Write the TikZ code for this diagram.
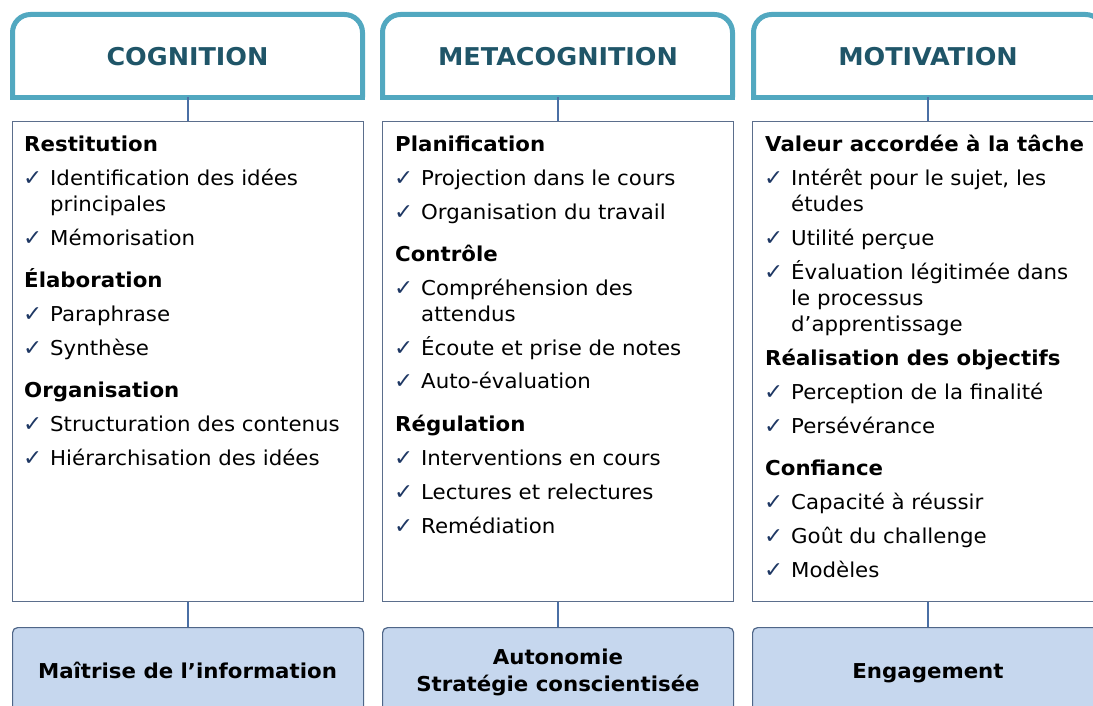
\documentclass[tikz,border=0pt]{standalone}
\usepackage{fontspec}
\setmainfont{DejaVu Sans}[FakeStretch=1.04]
\definecolor{hdrline}{HTML}{52A8C0}
\definecolor{hdrtext}{HTML}{1F5568}
\definecolor{conn}{HTML}{4A6FA5}
\definecolor{boxline}{HTML}{5B6E8C}
\definecolor{botfill}{HTML}{C6D7EE}
\definecolor{botline}{HTML}{4F6688}
\definecolor{checkc}{HTML}{1F3864}
\tikzset{
  hdrbox/.style={draw=hdrline, line width=5pt},
  hdrlabel/.style={font=\bfseries\fontsize{24.5}{28}\selectfont, text=hdrtext, inner sep=0pt},
  content/.style={draw=boxline, line width=1.2pt},
  conline/.style={draw=conn, line width=1.6pt},
  botbox/.style={draw=botline, fill=botfill, line width=1.2pt, rounded corners=5pt},
  botlabel/.style={font=\bfseries\fontsize{20.5}{25}\selectfont, anchor=base, inner sep=0pt},
  heading/.style={font=\bfseries\fontsize{20.5}{24}\selectfont, anchor=base west, inner sep=0pt},
  itemtext/.style={font=\fontsize{20.5}{24}\selectfont, anchor=base west, inner sep=0pt},
  checkmark/.style={font=\fontsize{22}{24}\selectfont, text=checkc, anchor=base west, inner sep=0pt},
}
\newcommand\hdg[4]{\node[heading] (#1) at (#2,#3) {#4};}
\newcommand\itm[4]{\node[checkmark] (#1c) at (#2-1,#3) {✓};\node[itemtext] (#1) at (#2+26,#3) {#4};}
\newcommand\cnt[4]{\node[itemtext] (#1) at (#2+26,#3) {#4};}
\begin{document}
\begin{tikzpicture}[x=1pt,y=-1pt]
\useasboundingbox (0,0) rectangle (1093,706);
\clip (0,0) rectangle (1093,706);
% header boxes
\foreach \n/\xl/\xr/\t in {h1/12.5/362.5/COGNITION, h2/382.5/732.5/METACOGNITION, h3/753.5/1103.5/MOTIVATION}{
  \coordinate (\n sw) at (\xl,97.5);
  \coordinate (\n nw) at (\xl,14.5);
  \coordinate (\n ne) at (\xr,14.5);
  \coordinate (\n se) at (\xr,97.5);
  \draw[hdrbox, rounded corners=18pt] (\n sw) -- (\n nw) -- (\n ne) -- (\n se);
  \draw[hdrbox, line cap=rect] (\n sw) -- (\n se);
}
\node[hdrlabel] (h1) at (187.5,57) {COGNITION};
\node[hdrlabel] (h2) at (558,57) {METACOGNITION};
\node[hdrlabel] (h3) at (928,57) {MOTIVATION};
% content boxes
\node[content, minimum width=351pt, minimum height=480pt, anchor=north west] (c1) at (12,121) {};
\node[content, minimum width=351pt, minimum height=480pt, anchor=north west] (c2) at (382,121) {};
\node[content, minimum width=351pt, minimum height=480pt, anchor=north west] (c3) at (752,121) {};
% bottom boxes
\node[botbox, minimum width=351pt, minimum height=84pt, anchor=north west] (b1) at (12,627) {};
\node[botbox, minimum width=351pt, minimum height=84pt, anchor=north west] (b2) at (382,627) {};
\node[botbox, minimum width=351pt, minimum height=84pt, anchor=north west] (b3) at (752,627) {};
% connectors
\draw[conline] (h1sw -| c1.north) -- (c1.north);
\draw[conline] (h2sw -| c2.north) -- (c2.north);
\draw[conline] (h3sw -| c3.north) -- (c3.north);
\draw[conline] (c1.south) -- (b1.north);
\draw[conline] (c2.south) -- (b2.north);
\draw[conline] (c3.south) -- (b3.north);
% bottom labels
\node[botlabel] (l1) at (187.5,678) {Maîtrise de l’information};
\node[botlabel] (l2a) at (558,664) {Autonomie};
\node[botlabel] (l2b) at (558,691) {Stratégie conscientisée};
\node[botlabel] (l3) at (928,678) {Engagement};
% column 1
\hdg{a1}{24}{151.5}{Restitution}
\itm{a2}{24}{185.5}{Identification des idées}
\cnt{a3}{24}{211.5}{principales}
\itm{a4}{24}{245.5}{Mémorisation}
\hdg{a5}{24}{287.5}{Élaboration}
\itm{a6}{24}{321.5}{Paraphrase}
\itm{a7}{24}{355.5}{Synthèse}
\hdg{a8}{24}{397.5}{Organisation}
\itm{a9}{24}{431.5}{Structuration des contenus}
\itm{a10}{24}{465.5}{Hiérarchisation des idées}
% column 2
\hdg{m1}{395}{151.5}{Planification}
\itm{m2}{395}{185.5}{Projection dans le cours}
\itm{m3}{395}{219.5}{Organisation du travail}
\hdg{m4}{395}{261.5}{Contrôle}
\itm{m5}{395}{295.5}{Compréhension des}
\cnt{m6}{395}{321.5}{attendus}
\itm{m7}{395}{355.5}{Écoute et prise de notes}
\itm{m8}{395}{388.5}{Auto-évaluation}
\hdg{m9}{395}{431.5}{Régulation}
\itm{m10}{395}{465.5}{Interventions en cours}
\itm{m11}{395}{499.5}{Lectures et relectures}
\itm{m12}{395}{533.5}{Remédiation}
% column 3
\hdg{v1}{765}{151.5}{Valeur accordée à la tâche}
\itm{v2}{765}{185.5}{Intérêt pour le sujet, les}
\cnt{v3}{765}{211.5}{études}
\itm{v4}{765}{245.5}{Utilité perçue}
\itm{v5}{765}{279.5}{Évaluation légitimée dans}
\cnt{v6}{765}{305.5}{le processus}
\cnt{v7}{765}{331.5}{d’apprentissage}
\hdg{v8}{765}{365.5}{Réalisation des objectifs}
\itm{v9}{765}{399.5}{Perception de la finalité}
\itm{v10}{765}{433.5}{Persévérance}
\hdg{v11}{765}{475.5}{Confiance}
\itm{v12}{765}{509.5}{Capacité à réussir}
\itm{v13}{765}{543.5}{Goût du challenge}
\itm{v14}{765}{577.5}{Modèles}
\end{tikzpicture}
\end{document}
